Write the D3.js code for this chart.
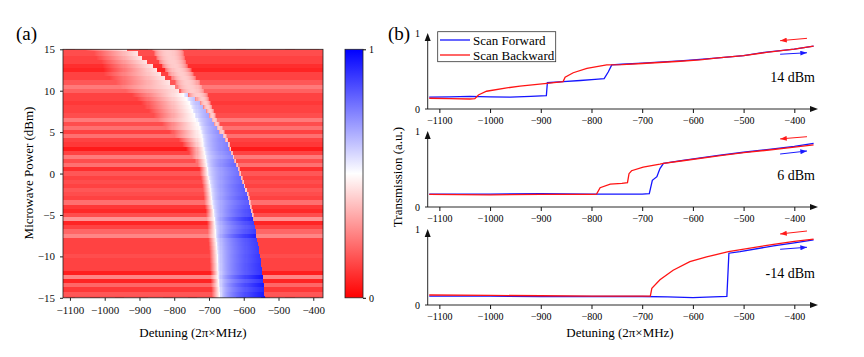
<!DOCTYPE html>
<html>
<head>
<meta charset="utf-8">
<script src="https://cdn.jsdelivr.net/npm/d3@7"></script>
<style>
  body { margin: 0; background: #fff; }
  svg, svg text { font-family: 'Liberation Serif', 'Times New Roman', serif; }
</style>
</head>
<body>
<div id="chart"></div>
<script>
// ---- (a) map, one row per 0.5 dBm step ----
const powers = [15,14.5,14,13.5,13,12.5,12,11.5,11,10.5,10,9.5,9,8.5,8,7.5,7,6.5,6,5.5,5,4.5,4,3.5,3,2.5,2,1.5,1,0.5,0,
  -0.5,-1,-1.5,-2,-2.5,-3,-3.5,-4,-4.5,-5,-5.5,-6,-6.5,-7,-7.5,-8,-8.5,-9,-9.5,-10,-10.5,-11,-11.5,-12,-12.5,-13,-13.5,-14,-14.5,-15]
// red background level of each row
const bgLevel = [0.15,0.15,0.13,0.13,0.09,0.07,0.13,0.13,0.17,0.24,0.19,
  0.13,0.13,0.11,0.13,0.13,0.15,0.24,0.15,0.22,0.13,
  0.22,0.13,0.11,0.05,0.13,0.24,0.15,0.22,0.09,0.17,
  0.13,0.15,0.13,0.17,0.15,0.13,0.22,0.11,0.08,0.15,
  0.29,0.07,0.13,0.20,0.26,0.13,0.13,0.13,0.13,0.15,
  0.13,0.13,0.13,0.06,0.26,0.07,0.20,0.11,0.17,0.15]
// detuning where the left (white) branch ends / blue part starts
const leftEdge = [-936,-905,-893,-876,-862,-850,-838,-826,-812,-798,-786,
  -772,-762,-755,-750,-746,-740,-735,-730,-726,-723,
  -720,-718,-717,-714,-712,-710,-708,-706,-704,-703,
  -700,-698,-696,-694,-693,-692,-690,-688,-686,-685,
  -683,-682,-681,-680,-679,-678,-677,-676,-675,-674,
  -674,-673,-673,-672,-672,-671,-670,-669,-668,-668]
// detuning of the sharp right edge of the blue part
const blueEdge = [null,null,null,null,null,null,null,null,null,null,null,
  -760,-740,-728,-718,-709,-700,-692,-685,-677,-670,
  -662,-655,-647,-642,-637,-632,-627,-621,-616,-612,
  -607,-603,-599,-596,-592,-589,-586,-583,-580,-577,
  -574,-571,-568,-566,-564,-562,-559,-557,-555,-553,
  -551,-549,-548,-546,-545,-543,-542,-541,-540,-539]
// width of the fade from red into the left branch
const fadeWidth = [120,125,130,135,145,155,165,160,155,155,155,
  150,145,140,135,128,120,112,105,97,90,
  80,70,60,52,45,38,32,28,25,24,
  24,24,24,24,24,24,24,24,24,24,
  24,24,24,24,24,24,24,24,24,24,
  24,24,24,24,24,24,24,24,24,24]
// second (pink) branch
const bandStart = [-864,-858,-852,-845,-836,-827,-818,-808,-798,-790,-782,
  -760,-740,-728,-718,-709,-700,-692,-685,-677,-670,
  -662,-655,-647,-642,-637,-632,-627,-621,-616,-612,
  -607,-603,-599,-596,-592,-589,-586,-583,-580,-577,
  null,null,null,null,null,null,null,null,null,null,
  null,null,null,null,null,null,null,null,null,null]
const bandEnd = [-775,-772,-769,-765,-760,-749,-743,-736,-726,-720,-714,
  -703,-700,-695,-690,-685,-680,-675,-668,-662,-656,
  -650,-645,-640,-636,-631,-627,-622,-616,-611,-607,
  -602,-598,-594,-591,-587,-584,-581,-578,-575,-572,
  null,null,null,null,null,null,null,null,null,null,
  null,null,null,null,null,null,null,null,null,null]
// deepest blue reached in each row
const bluePeak = [null,null,null,null,null,null,null,null,null,null,null,
  0.60,0.62,0.64,0.65,0.66,0.68,0.68,0.70,0.70,0.72,
  0.72,0.74,0.75,0.76,0.75,0.74,0.78,0.80,0.78,0.78,
  0.80,0.80,0.82,0.82,0.82,0.84,0.82,0.84,0.86,0.86,
  0.92,0.88,0.86,0.88,0.94,0.88,0.88,0.88,0.88,0.89,
  0.89,0.90,0.90,0.90,0.96,0.90,0.95,0.92,0.95,0.96]

const detTicks = [-1100,-1000,-900,-800,-700,-600,-500,-400]
const powTicks = [15,10,5,0,-5,-10,-15]

// ---- (b) traces: [detuning, transmission] ----
const fwd14 = [[-1120,0.16],[-1080,0.165],[-1040,0.17],[-1000,0.165],[-960,0.16],[-920,0.17],[-889,0.18],[-887,0.355],
  [-856,0.37],[-822,0.385],[-793,0.40],[-775,0.41],[-767,0.50],[-760,0.595],[-740,0.605],[-700,0.62],[-625,0.65],
  [-586,0.67],[-550,0.69],[-500,0.72],[-455,0.77],[-400,0.81],[-362,0.85]]
const bwd14 = [[-1120,0.145],[-1080,0.14],[-1040,0.135],[-1030,0.14],[-1023,0.19],[-1007,0.24],[-967,0.285],[-941,0.31],
  [-888,0.345],[-856,0.37],[-852,0.43],[-836,0.49],[-809,0.55],[-770,0.595],[-740,0.60],[-700,0.615],[-625,0.645],
  [-586,0.665],[-550,0.69],[-500,0.72],[-455,0.765],[-400,0.81],[-362,0.85]]
const fwd6 = [[-1120,0.175],[-1000,0.175],[-900,0.18],[-800,0.175],[-700,0.175],[-686,0.18],[-680,0.36],[-671,0.41],
  [-665,0.52],[-658,0.59],[-620,0.63],[-546,0.70],[-500,0.74],[-450,0.78],[-400,0.82],[-362,0.86]]
const bwd6 = [[-1120,0.17],[-1000,0.165],[-900,0.17],[-800,0.17],[-790,0.175],[-783,0.26],[-763,0.31],[-740,0.32],
  [-729,0.33],[-726,0.45],[-721,0.49],[-698,0.54],[-665,0.58],[-658,0.59],[-620,0.625],[-546,0.695],[-500,0.735],
  [-450,0.77],[-400,0.81],[-362,0.84]]
const fwdM14 = [[-1120,0.12],[-1000,0.12],[-900,0.115],[-800,0.115],[-700,0.115],[-650,0.11],[-600,0.10],[-560,0.11],
  [-533,0.115],[-529,0.70],[-507,0.72],[-441,0.80],[-400,0.84],[-362,0.88]]
const bwdM14 = [[-1120,0.135],[-1000,0.13],[-900,0.125],[-800,0.12],[-700,0.12],[-684,0.12],[-681,0.225],[-665,0.34],
  [-639,0.47],[-606,0.585],[-573,0.65],[-530,0.72],[-441,0.82],[-400,0.86],[-362,0.89]]

const panels = [
  {label: '14 dBm', fwd: fwd14, bwd: bwd14, redArrow: [[-375,0.955],[-428,0.923]], blueArrow: [[-428,0.74],[-375,0.76]]},
  {label: '6 dBm', fwd: fwd6, bwd: bwd6, redArrow: [[-375,0.95],[-428,0.92]], blueArrow: [[-428,0.716],[-375,0.757]]},
  {label: '-14 dBm', fwd: fwdM14, bwd: bwdM14, redArrow: [[-375,1.0],[-428,0.96]], blueArrow: [[-428,0.753],[-375,0.78]]}
]

const serif = "'Liberation Serif', 'Times New Roman', serif"
const W = 864, H = 357
const svg = d3.select('#chart').append('svg').attr('width', W).attr('height', H)
  .attr('font-family', serif)
const defs = svg.append('defs')

const color = d3.scaleLinear().domain([0, 0.5, 1]).range(['#ff0000', '#ffffff', '#0000ff'])

// value of row i at detuning d
function cellValue(i, d) {
  const bg = bgLevel[i], e1 = leftEdge[i], e2 = blueEdge[i]
  const fs = e1 - fadeWidth[i]
  let v = bg
  if (bandStart[i] !== null && d >= bandStart[i] && d <= bandEnd[i]) {
    const t = (d - bandStart[i]) / Math.max(1, bandEnd[i] - bandStart[i])
    v = bg + (0.4 - bg) * Math.pow(Math.sin(Math.PI * Math.min(1, Math.max(0, t))), 0.4)
  }
  if (d >= fs && d <= e1) {
    const top = e2 !== null ? 0.5 : 0.45
    v = bg + (top - bg) * Math.pow((d - fs) / (e1 - fs), 0.9)
  }
  if (e2 !== null && d > e1 && d <= e2) {
    v = 0.5 + (bluePeak[i] - 0.5) * Math.pow((d - e1) / (e2 - e1), 0.45)
  }
  return v
}

// ---------- (a) ----------
const xL = d3.scaleLinear().domain([-1120, -372]).range([63, 323])
const yL = d3.scaleLinear().domain([-15, 15]).range([297.8, 49.3])
const step = 3
const cols = d3.range(-1120, -372, step)

defs.append('clipPath').attr('id', 'clipA')
  .append('rect').attr('x', xL(-1120)).attr('y', yL(15)).attr('width', xL(-372) - xL(-1120)).attr('height', yL(-15) - yL(15))

const cells = []
powers.forEach((p, i) => cols.forEach(c => cells.push({p: p, c: c, v: cellValue(i, c + step / 2)})))

svg.append('g').attr('clip-path', 'url(#clipA)')
  .selectAll('rect')
  .data(cells)
  .join('rect')
  .attr('x', d => xL(d.c))
  .attr('y', d => yL(Math.min(15, d.p + 0.25)))
  .attr('width', d => xL(d.c + step) - xL(d.c) + 0.4)
  .attr('height', d => yL(Math.max(-15, d.p - 0.25)) - yL(Math.min(15, d.p + 0.25)) + 0.4)
  .attr('fill', d => color(d.v))
  .attr('shape-rendering', 'crispEdges')

svg.append('rect')
  .attr('x', xL(-1120)).attr('y', yL(15))
  .attr('width', xL(-372) - xL(-1120)).attr('height', yL(-15) - yL(15))
  .attr('fill', 'none').attr('stroke', '#222').attr('stroke-width', 0.8)

const fmt = d3.format('d')
const axA = svg.append('g').attr('transform', `translate(0,${yL(-15)})`)
  .call(d3.axisBottom(xL).tickValues(detTicks).tickSize(3).tickSizeOuter(0).tickPadding(5).tickFormat(fmt))
const ayA = svg.append('g').attr('transform', `translate(${xL(-1120)},0)`)
  .call(d3.axisLeft(yL).tickValues(powTicks).tickSize(3).tickSizeOuter(0).tickPadding(5).tickFormat(fmt))
;[axA, ayA].forEach(g => {
  g.select('.domain').remove()
  g.attr('font-family', serif).attr('font-size', 11)
  g.selectAll('line').attr('stroke', '#222')
  g.selectAll('text').attr('fill', '#111')
})

svg.append('text').attr('x', 193).attr('y', 337).attr('text-anchor', 'middle')
  .style('font-size', '13px').text('Detuning (2π×MHz)')
svg.append('text').attr('transform', 'translate(33,173) rotate(-90)').attr('text-anchor', 'middle')
  .style('font-size', '13px').text('Microwave Power (dBm)')
svg.append('text').attr('x', 16).attr('y', 40).style('font-size', '19px').text('(a)')

// colorbar
const cbY = d3.scaleLinear().domain([0, 1]).range([yL(-15), yL(15)])
const grad = defs.append('linearGradient').attr('id', 'cbar')
  .attr('x1', 0).attr('y1', 1).attr('x2', 0).attr('y2', 0)
grad.selectAll('stop').data([0, 0.25, 0.5, 0.75, 1]).join('stop')
  .attr('offset', d => d).attr('stop-color', d => color(d))
svg.append('rect').attr('x', 345).attr('y', cbY(1)).attr('width', 18).attr('height', cbY(0) - cbY(1))
  .attr('fill', 'url(#cbar)').attr('stroke', '#222').attr('stroke-width', 0.8)
const cbAx = svg.append('g').attr('transform', 'translate(363,0)')
  .call(d3.axisRight(cbY).tickValues([0, 1]).tickSize(3).tickSizeOuter(0).tickPadding(3).tickFormat(fmt))
cbAx.select('.domain').remove()
cbAx.attr('font-family', serif).attr('font-size', 10)

// ---------- (b) ----------
const xR = d3.scaleLinear().domain([-1123, -360]).range([427.7, 814.6])

;['red', 'blue'].forEach(c => {
  defs.append('marker').attr('id', 'arr-' + c)
    .attr('viewBox', '0 0 8 6').attr('refX', 8).attr('refY', 3)
    .attr('markerWidth', 7).attr('markerHeight', 5).attr('markerUnits', 'userSpaceOnUse').attr('orient', 'auto')
    .append('path').attr('d', 'M0,0 L8,3 L0,6 z').attr('fill', c === 'red' ? '#ff1a1a' : '#1a1aff')
})

panels.forEach((pn, k) => {
  const y0 = 109 + 98 * k
  const yR = d3.scaleLinear().domain([0, 1]).range([y0, y0 - 74])
  const g = svg.append('g')

  // x axis with arrow
  g.append('line').attr('x1', 425).attr('x2', 812).attr('y1', y0).attr('y2', y0).attr('stroke', '#111').attr('stroke-width', 0.9)
  g.append('path').attr('d', `M818,${y0} L810,${y0 - 3} L810,${y0 + 3} Z`).attr('fill', '#111')
  // y axis with arrow
  const yTip = yR(1) - 2
  g.append('line').attr('x1', 427.7).attr('x2', 427.7).attr('y1', y0).attr('y2', yTip + 6).attr('stroke', '#111').attr('stroke-width', 0.9)
  g.append('path').attr('d', `M427.7,${yTip} L424.7,${yTip + 8} L430.7,${yTip + 8} Z`).attr('fill', '#111')

  const ax = g.append('g').attr('transform', `translate(0,${y0})`)
    .call(d3.axisBottom(xR).tickValues(detTicks).tickSize(4).tickSizeOuter(0).tickPadding(4).tickFormat(fmt))
  ax.select('.domain').remove()
  ax.attr('font-family', serif).attr('font-size', 10)
  ax.selectAll('line').attr('stroke', '#111')

  g.append('text').attr('x', 420).attr('y', y0).attr('dy', '0.35em').attr('text-anchor', 'end').style('font-size', '10px').text('0')
  g.append('text').attr('x', 420).attr('y', yTip).attr('dy', '0.35em').attr('text-anchor', 'end').style('font-size', '10px').text('1')

  const line = d3.line().x(d => xR(d[0])).y(d => yR(d[1]))
  g.append('path').datum(pn.fwd).attr('d', line).attr('fill', 'none').attr('stroke', '#1414ff').attr('stroke-width', 1.3)
  g.append('path').datum(pn.bwd).attr('d', line).attr('fill', 'none').attr('stroke', '#ff1414').attr('stroke-width', 1.3)

  g.append('path').datum(pn.redArrow).attr('d', line).attr('stroke', '#ff1a1a').attr('stroke-width', 1).attr('marker-end', 'url(#arr-red)')
  g.append('path').datum(pn.blueArrow).attr('d', line).attr('stroke', '#1a1aff').attr('stroke-width', 1).attr('marker-end', 'url(#arr-blue)')

  g.append('text').attr('x', 815).attr('y', yR(0.43)).attr('dy', '0.35em').attr('text-anchor', 'end')
    .style('font-size', '14px').text(pn.label)
})

// legend
const lg = svg.append('g')
lg.append('rect').attr('x', 437.7).attr('y', 31.7).attr('width', 118).attr('height', 30)
  .attr('fill', '#fff').attr('stroke', '#333').attr('stroke-width', 0.8)
const legendItems = [{text: 'Scan Forward', color: '#1414ff'}, {text: 'Scan Backward', color: '#ff1414'}]
legendItems.forEach((d, i) => {
  const y = 40 + i * 15
  lg.append('line').attr('x1', 440).attr('x2', 470).attr('y1', y).attr('y2', y).attr('stroke', d.color).attr('stroke-width', 1.3)
  lg.append('text').attr('x', 473).attr('y', y).attr('dy', '0.35em').style('font-size', '13px').text(d.text)
})

svg.append('text').attr('transform', 'translate(402,177) rotate(-90)').attr('text-anchor', 'middle')
  .style('font-size', '13px').text('Transmission (a.u.)')
svg.append('text').attr('x', 620).attr('y', 337).attr('text-anchor', 'middle')
  .style('font-size', '13px').text('Detuning (2π×MHz)')
svg.append('text').attr('x', 388).attr('y', 40).style('font-size', '19px').text('(b)')
</script>
</body>
</html>
